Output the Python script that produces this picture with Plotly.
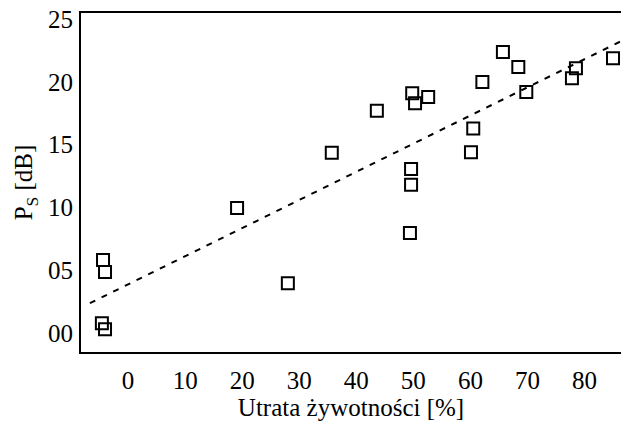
import plotly.graph_objects as go

# Data
loss_pct = [-4.4, -4.05, -4.6, -4.05, 19.1, 28.0, 35.7, 43.6, 49.8, 50.3, 52.6,
            49.6, 49.6, 49.4, 60.5, 60.1, 62.1, 65.7, 68.4, 69.8, 78.5, 77.8, 85.0]
ps_db = [5.8, 4.84, 0.76, 0.28, 9.95, 3.96, 14.35, 17.7, 19.1, 18.3, 18.8,
         13.07, 11.8, 7.95, 16.3, 14.4, 20.0, 22.4, 21.2, 19.2, 21.1, 20.3, 21.9]

trend_x = [-6.7, 86.4]
trend_y = [2.36, 23.25]

x_ticks = [0, 10, 20, 30, 40, 50, 60, 70, 80]
y_ticks = [0, 5, 10, 15, 20, 25]
y_tick_text = ["00", "05", "10", "15", "20", "25"]

FONT = "Liberation Serif"

fig = go.Figure()
fig.add_trace(go.Scatter(
    x=trend_x, y=trend_y, mode="lines",
    line=dict(color="black", width=2, dash="6px,7px"),
    showlegend=False, hoverinfo="skip"))
fig.add_trace(go.Scatter(
    x=loss_pct, y=ps_db, mode="markers",
    marker=dict(symbol="square-open", size=12, color="black", line=dict(width=2)),
    showlegend=False))

fig.update_layout(
    width=621, height=427,
    margin=dict(l=81, r=0, t=13, b=75),
    paper_bgcolor="white", plot_bgcolor="white",
    font=dict(family=FONT, size=25, color="black"),
    xaxis=dict(
        range=[-8.26, 86.4], tickvals=x_ticks, ticks="", showgrid=False, zeroline=False,
        showline=True, linecolor="black", linewidth=2, mirror=True,
        tickfont=dict(family=FONT, size=25),
        ticklabelstandoff=5,
        title=dict(text="Utrata żywotności [%]", font=dict(family=FONT, size=25), standoff=4)),
    yaxis=dict(
        range=[-1.53, 25.5], tickvals=y_ticks, ticktext=y_tick_text, ticks="",
        showgrid=False, zeroline=False,
        showline=True, linecolor="black", linewidth=2, mirror=False,
        tickfont=dict(family=FONT, size=25),
        ticklabelstandoff=1,
        title=dict(text="P<sub>S</sub> [dB]", font=dict(family=FONT, size=25), standoff=8)),
)

fig.write_html("out.html")
